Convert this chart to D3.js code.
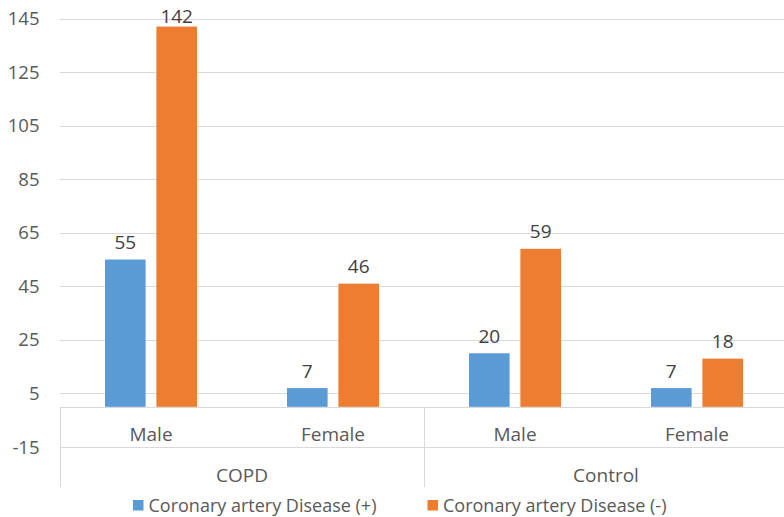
<!DOCTYPE html>
<html>
<head>
<meta charset="utf-8">
<script src="https://cdn.jsdelivr.net/npm/d3@7"></script>
<style>
  html, body { margin: 0; padding: 0; background: #ffffff; }
  svg { display: block; font-family: "Open Sans", "Noto Sans", sans-serif; }
</style>
</head>
<body>
<svg id="chart" width="784" height="517"></svg>
<script>
// ---- data ----
const groups = ["COPD", "Control"];
const subCategories = ["Male", "Female"];
const categories = ["COPD|Male", "COPD|Female", "Control|Male", "Control|Female"];
const seriesNames = ["Coronary artery Disease (+)", "Coronary artery Disease (-)"];
const cadPositive = [55, 7, 20, 7];
const cadNegative = [142, 46, 59, 18];
const yTicks = [-15, 5, 25, 45, 65, 85, 105, 125, 145];
const colors = ["#5B9BD5", "#ED7D31"];

// ---- layout ----
const svg = d3.select("#chart");
const plotLeft = 60, plotRight = 788, plotTop = 18.5, plotBottomTick = 447;
const y = d3.scaleLinear().domain([-15, 145]).range([plotBottomTick, plotTop]);
const x0 = d3.scaleBand().domain(categories).range([plotLeft, plotRight]).padding(0);
const x1 = d3.scaleBand().domain(seriesNames).range([45, 137]).paddingInner(0.21).paddingOuter(0);

const gridColor = "#d9d9d9";

// gridlines (above baseline)
svg.append("g").selectAll("line")
  .data(yTicks.filter(t => t > 0))
  .join("line")
  .attr("x1", plotLeft).attr("x2", plotRight)
  .attr("y1", d => Math.round(y(d)) + 0.5).attr("y2", d => Math.round(y(d)) + 0.5)
  .attr("stroke", gridColor).attr("stroke-width", 1);

// y tick labels
svg.append("g").selectAll("text")
  .data(yTicks)
  .join("text")
  .attr("x", 39.5).attr("y", d => y(d) + 6.6)
  .attr("text-anchor", "end")
  .attr("font-size", 18.5).attr("fill", "#595959")
  .text(d => d);

// bars
const seriesData = [cadPositive, cadNegative];
const barG = svg.append("g");
seriesNames.forEach((s, si) => {
  const rows = categories.map((c, i) => ({ c, v: seriesData[si][i] }));
  barG.selectAll(null)
    .data(rows)
    .join("rect")
    .attr("x", d => x0(d.c) + x1(s))
    .attr("width", x1.bandwidth())
    .attr("y", d => y(d.v))
    .attr("height", d => y(0) - y(d.v))
    .attr("fill", colors[si]);
  barG.selectAll(null)
    .data(rows)
    .join("text")
    .attr("x", d => x0(d.c) + x1(s) + x1.bandwidth() / 2)
    .attr("y", d => Math.max(y(d.v) - 10.5, 22.7))
    .attr("text-anchor", "middle")
    .attr("font-size", 19).attr("fill", "#404040")
    .text(d => d.v);
});

// category axis lines
const axisY = Math.round(y(0)) + 0.5;
const row1Y = Math.round(y(-15)) + 0.5;
const axisBottom = 487;
const axisG = svg.append("g").attr("stroke", gridColor).attr("stroke-width", 1);
axisG.append("line").attr("x1", plotLeft).attr("x2", plotRight).attr("y1", axisY).attr("y2", axisY);
axisG.append("line").attr("x1", plotLeft).attr("x2", plotRight).attr("y1", row1Y).attr("y2", row1Y);
const groupEdges = [plotLeft, x0(categories[2]), plotRight];
axisG.selectAll(null).data(groupEdges).join("line")
  .attr("x1", d => Math.round(d) + 0.5).attr("x2", d => Math.round(d) + 0.5)
  .attr("y1", axisY).attr("y2", axisBottom);

// sub-category labels
svg.append("g").selectAll("text")
  .data(categories)
  .join("text")
  .attr("x", d => x0(d) + x0.bandwidth() / 2)
  .attr("y", 440.5)
  .attr("text-anchor", "middle")
  .attr("font-size", 19).attr("fill", "#595959")
  .text(d => d.split("|")[1]);

// group labels
svg.append("g").selectAll("text")
  .data(groups)
  .join("text")
  .attr("x", g => {
    const cs = categories.filter(c => c.startsWith(g + "|"));
    return (x0(cs[0]) + x0(cs[cs.length - 1]) + x0.bandwidth()) / 2;
  })
  .attr("y", 481.5)
  .attr("text-anchor", "middle")
  .attr("font-size", 19).attr("fill", "#595959")
  .text(d => d);

// legend
const legendX = [133, 427.5];
const lg = svg.append("g");
seriesNames.forEach((s, i) => {
  lg.append("rect").attr("x", legendX[i]).attr("y", 500).attr("width", 10.5).attr("height", 10.5).attr("fill", colors[i]);
  lg.append("text").attr("x", legendX[i] + 15.5).attr("y", 512)
    .attr("font-size", 18).attr("fill", "#595959")
    .text(s);
});
</script>
</body>
</html>
